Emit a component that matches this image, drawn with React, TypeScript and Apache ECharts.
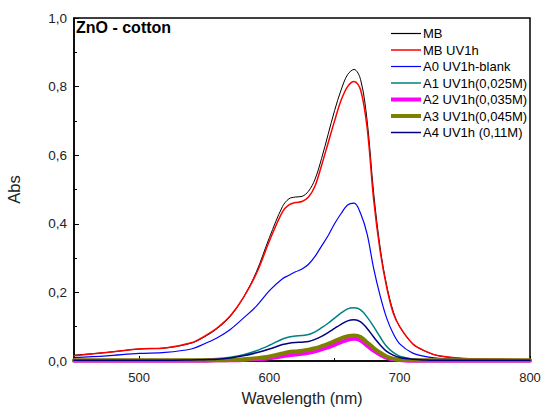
import React, { useEffect, useRef } from "react";
import * as echarts from "echarts";

const wavelengths = [450, 475, 500, 520, 540, 550, 560, 570, 580, 590, 600, 610, 615, 620, 625, 630, 635, 640, 645, 650, 655, 660, 665, 670, 675, 680, 685, 690, 695, 700, 710, 720, 730, 750, 775, 800];

const mb = [0.017, 0.025, 0.035, 0.038, 0.052, 0.07, 0.095, 0.13, 0.185, 0.26, 0.36, 0.45, 0.473, 0.478, 0.48, 0.495, 0.53, 0.59, 0.66, 0.73, 0.79, 0.835, 0.85, 0.82, 0.7, 0.49, 0.33, 0.22, 0.145, 0.1, 0.05, 0.028, 0.015, 0.007, 0.005, 0.004];
const mbUv = [0.015, 0.025, 0.035, 0.038, 0.053, 0.072, 0.097, 0.132, 0.185, 0.255, 0.35, 0.435, 0.455, 0.462, 0.465, 0.478, 0.51, 0.57, 0.635, 0.7, 0.76, 0.8, 0.815, 0.79, 0.68, 0.47, 0.32, 0.215, 0.14, 0.1, 0.05, 0.028, 0.015, 0.007, 0.005, 0.004];
const a0 = [0.01, 0.015, 0.022, 0.025, 0.035, 0.05, 0.068, 0.092, 0.125, 0.16, 0.205, 0.24, 0.25, 0.26, 0.268, 0.282, 0.305, 0.335, 0.365, 0.4, 0.43, 0.455, 0.46, 0.43, 0.37, 0.27, 0.19, 0.125, 0.08, 0.05, 0.023, 0.013, 0.008, 0.005, 0.004, 0.004];
const a1 = [0.003, 0.003, 0.003, 0.003, 0.004, 0.005, 0.007, 0.011, 0.018, 0.03, 0.046, 0.064, 0.07, 0.073, 0.074, 0.077, 0.085, 0.097, 0.11, 0.125, 0.14, 0.152, 0.155, 0.149, 0.128, 0.1, 0.07, 0.042, 0.025, 0.014, 0.006, 0.004, 0.003, 0.003, 0.003, 0.003];
const a2 = [0.001, 0.001, 0.001, 0.001, 0.001, 0.001, 0.002, 0.002, 0.003, 0.005, 0.008, 0.014, 0.017, 0.019, 0.021, 0.024, 0.028, 0.034, 0.04, 0.047, 0.055, 0.062, 0.065, 0.06, 0.045, 0.03, 0.018, 0.009, 0.005, 0.003, 0.001, 0.001, 0.001, 0.001, 0.001, 0.001];
const a3 = [0.002, 0.002, 0.002, 0.002, 0.002, 0.002, 0.002, 0.003, 0.005, 0.008, 0.013, 0.022, 0.026, 0.028, 0.03, 0.033, 0.037, 0.043, 0.05, 0.058, 0.066, 0.072, 0.074, 0.07, 0.054, 0.038, 0.024, 0.013, 0.007, 0.004, 0.002, 0.002, 0.002, 0.002, 0.002, 0.002];
const a4 = [0.002, 0.002, 0.002, 0.002, 0.003, 0.004, 0.005, 0.009, 0.015, 0.024, 0.035, 0.048, 0.052, 0.054, 0.055, 0.057, 0.063, 0.072, 0.083, 0.095, 0.107, 0.117, 0.12, 0.114, 0.095, 0.07, 0.047, 0.028, 0.017, 0.01, 0.005, 0.003, 0.002, 0.002, 0.002, 0.002];

const seriesNames = ["MB", "MB UV1h", "A0 UV1h-blank", "A1 UV1h(0,025M)", "A2 UV1h(0,035M)", "A3 UV1h(0,045M)", "A4 UV1h (0,11M)"];
const seriesValues = [mb, mbUv, a0, a1, a2, a3, a4];
const seriesColors = ["#000000", "#ff0000", "#0000ff", "#008080", "#ff00ff", "#808000", "#000080"];
const seriesWidths = [1, 1.5, 1.2, 1.5, 4, 4, 1.5];

const xMajorTicks = [500, 600, 700, 800];
const xMinorTicks = [550, 650, 750];

const FONT = "'Liberation Sans', Arial, sans-serif";

function legendIcon(w: number) {
  const h = Math.max(w, 1.2);
  return `path://M0,0h30v${h}h-30z`;
}

export default function App() {
  const ref = useRef<HTMLDivElement>(null);
  useEffect(() => {
    if (!ref.current) return;
    const chart = echarts.init(ref.current, undefined, { renderer: "svg" });
    chart.setOption({
      animation: false,
      backgroundColor: "#ffffff",
      textStyle: { fontFamily: FONT },
      title: {
        text: "ZnO - cotton",
        left: 76,
        top: 19,
        padding: 0,
        textStyle: { fontFamily: FONT, fontSize: 16, fontWeight: "bold", color: "#000" },
      },
      legend: {
        orient: "vertical",
        left: 391,
        top: 27,
        padding: 0,
        itemWidth: 30,
        itemHeight: 12,
        itemGap: 3.5,
        symbolKeepAspect: true,
        textStyle: { fontFamily: FONT, fontSize: 13, color: "#000", padding: [0, 0, 0, -3] },
        data: seriesNames.map((name, i) => ({
          name,
          icon: legendIcon(seriesWidths[i]),
          itemStyle: { color: seriesColors[i], borderWidth: 0 },
        })),
      },
      grid: {
        left: 74,
        right: 12,
        top: 18,
        bottom: 49,
        outerBoundsMode: "none",
        containLabel: false,
        show: true,
        borderColor: "#000",
        borderWidth: 1.5,
        backgroundColor: "transparent",
      },
      xAxis: [
        {
          type: "value",
          min: 450,
          max: 800,
          interval: 50,
          name: "Wavelength (nm)",
          nameLocation: "middle",
          nameGap: 29,
          nameTextStyle: { fontFamily: FONT, fontSize: 16, color: "#222" },
          axisLine: { show: true, lineStyle: { color: "#000", width: 1.5 } },
          axisTick: { show: true, inside: true, length: 5, customValues: xMajorTicks, lineStyle: { color: "#000" } },
          axisLabel: { show: true, customValues: xMajorTicks, fontFamily: FONT, fontSize: 13, color: "#222", margin: 10 },
          splitLine: { show: false },
        },
        {
          type: "value",
          min: 450,
          max: 800,
          interval: 50,
          position: "bottom",
          axisLine: { show: false },
          axisTick: { show: true, inside: true, length: 3, customValues: xMinorTicks, lineStyle: { color: "#000" } },
          axisLabel: { show: false },
          splitLine: { show: false },
        },
      ],
      yAxis: {
        type: "value",
        min: 0,
        max: 1,
        interval: 0.2,
        name: "Abs",
        nameLocation: "middle",
        nameGap: 52,
        nameTextStyle: { fontFamily: FONT, fontSize: 16.5, color: "#222" },
        axisLine: { show: true, lineStyle: { color: "#000", width: 1.5 } },
        axisTick: { show: true, inside: true, length: 5, lineStyle: { color: "#000" } },
        minorTick: { show: true, splitNumber: 2, length: 3, lineStyle: { color: "#000" } },
        axisLabel: {
          fontFamily: FONT,
          fontSize: 13.5,
          color: "#222",
          margin: 7,
          formatter: (v: number) => v.toFixed(1).replace(".", ","),
        },
        splitLine: { show: false },
        minorSplitLine: { show: false },
      },
      series: seriesNames.map((name, i) => ({
        name,
        type: "line",
        xAxisIndex: 0,
        data: wavelengths.map((w, j) => [w, seriesValues[i][j]]),
        smooth: 0.35,
        symbol: "none",
        showSymbol: false,
        lineStyle: { color: seriesColors[i], width: seriesWidths[i], cap: "round" },
        itemStyle: { color: seriesColors[i] },
        z: 2 + i,
      })),
    });
    return () => chart.dispose();
  }, []);
  return <div ref={ref} style={{ position: "fixed", left: 0, top: 0, width: 542, height: 410 }} />;
}
